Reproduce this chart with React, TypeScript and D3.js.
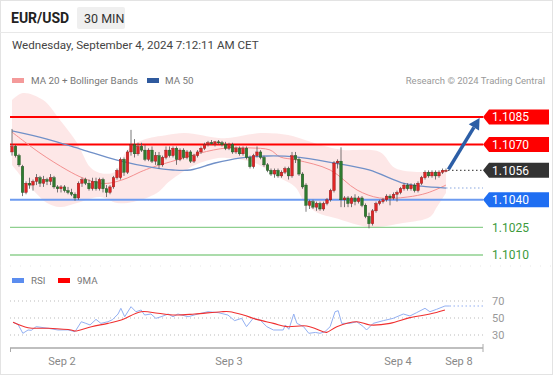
import React from 'react';
import * as d3 from 'd3';

const BASE = 1.1;
// candles in pips above 1.1000: [open, high, low, close]
const candles: number[][] = [
  [66, 78.5, 64, 69], [69, 70, 63, 64], [64, 65, 58, 59], [58, 59, 42, 44], [44, 50, 43, 49],
  [49, 52, 46, 48], [48, 51, 45, 50], [50, 54, 48, 52], [52, 53, 47, 49], [49, 53, 47, 51],
  [51, 52, 48, 50], [50, 54, 48, 52], [52, 53, 46, 47], [47, 48, 44, 46], [46, 48, 44, 47],
  [47, 48, 44, 45], [45, 47, 43, 44], [44, 46, 42, 43], [43, 44, 39.5, 41], [41, 50, 40, 49],
  [49, 52, 47, 51], [51, 52, 48, 49], [49, 51, 45, 46], [46, 52, 45, 50], [50, 52, 45, 46],
  [46, 52, 45, 51], [51, 52, 44, 46], [46, 48, 41.5, 44], [44, 48, 43, 47], [47, 53, 46, 52],
  [52, 57, 51, 56], [52, 63, 51, 62], [62, 63, 53, 55], [55, 67, 54, 66], [66, 78, 64, 70],
  [70, 73, 63, 65], [65, 71, 64, 69], [69, 71, 66, 67], [67, 70, 61, 62], [62, 68, 61, 67],
  [67, 69, 60, 61], [61, 66, 59, 64], [64, 66, 57, 59], [59, 64, 58, 63], [63, 69, 62, 67],
  [67, 69, 63, 64], [64, 69, 63, 68], [68, 69, 59, 62], [62, 68, 61, 67], [67, 68, 62, 63],
  [63, 67, 62, 66], [66, 67, 60, 61], [61, 65, 60, 64], [64, 67, 63, 66], [66, 69, 65, 68],
  [68, 71, 67, 70], [70, 72, 69, 71], [71, 72.5, 70, 70.5], [70.5, 72, 69, 71.5], [71.5, 72.5, 70, 71],
  [71, 72, 69, 70], [70, 71.5, 67, 68], [68, 71, 67, 70], [70, 71, 65, 66], [66, 69, 65, 68],
  [68, 69, 64, 65], [65, 69, 64, 68], [68, 69, 62, 63], [63, 64, 57, 58], [58, 65, 57, 64],
  [64, 69, 63, 66], [66, 67, 62, 63], [63, 64, 58, 59], [59, 60, 55, 56], [56, 57, 53, 54],
  [54, 57, 52, 56], [56, 57, 52, 53], [53, 56, 52, 55], [55, 58, 54, 57], [57, 58, 51, 53],
  [53, 66, 52, 64], [64, 66, 60, 62], [62, 63, 53, 54], [54, 55, 46, 47], [48, 49, 33.5, 37],
  [37, 40, 35, 39], [39, 40, 35, 36], [36, 39, 34, 38], [38, 39, 34, 35], [35, 39, 34, 38],
  [38, 41, 37, 40], [40, 46, 39, 45], [45, 61, 44, 60], [60, 62, 57, 61], [61, 68.5, 36, 40],
  [40, 42, 36, 41], [41, 42, 36, 38], [38, 42, 36, 41], [41, 43, 37, 39], [39, 42, 38, 41],
  [41, 42, 36, 37], [37, 38, 30, 31], [31, 33, 24.5, 27], [27, 35, 26, 34], [34, 39, 33, 38],
  [38, 40, 37, 39], [39, 41, 38, 40], [40, 43, 39, 42], [42, 43, 37, 41], [41, 44, 40, 43],
  [43, 45, 39, 44], [44, 47, 43, 46], [46, 49, 45, 48], [48, 49, 45, 46], [46, 49, 45, 48],
  [48, 49, 44, 45], [45, 50, 44, 49], [49, 53, 48, 52], [52, 56, 51, 55], [55, 56, 52, 53],
  [53, 56, 52, 55], [55, 56, 51, 53], [53, 56, 52, 55], [55, 57, 54, 56], [56, 57, 55, 56],
];

// indicator samples: [candle index, pips]
const ma50: number[][] = [
  [0, 77.4], [10, 73], [20, 67.3], [30, 61.6], [40, 57.6], [46, 56.2], [51, 56.2], [58, 60],
  [65, 62.7], [73, 63.8], [81, 63.3], [92, 60], [102, 56.2], [112, 48.9], [117, 47.4], [124, 46.4],
];
const ma20: number[][] = [
  [0, 76.8], [8, 65.4], [15.7, 56.2], [20.3, 51.8], [25, 49.1], [28, 49.1], [32.9, 51.8],
  [36.6, 55.1], [40.3, 57.8], [47, 61.6], [53.7, 65.4], [61.4, 68.2], [68, 68.2], [73.7, 67.1],
  [76.6, 63.3], [81.4, 61.6], [90.9, 56.2], [98.6, 45.3], [105, 41], [112.9, 41.5],
  [118.6, 43.7], [124, 48],
];
const bbUpper: number[][] = [
  [0, 94.2], [3.1, 98], [8.9, 94.2], [13.7, 83.4], [18.6, 70.9], [22.3, 57.8], [25.1, 54.6],
  [29.4, 55.1], [32.9, 67.1], [37.4, 72.5], [44.3, 75.2], [49.4, 76.3], [58.9, 73.6],
  [61.7, 73.6], [71.1, 76.3], [78.9, 75.2], [83.7, 72.5], [90.3, 68.7], [94.6, 67.1],
  [105.1, 66], [109.4, 57.3], [116.6, 55.1], [124, 56.2],
];
const bbLower: number[][] = [
  [0, 58.9], [6, 45.3], [10, 38.3], [13.7, 36.1], [18.6, 38.3], [25.1, 41.5], [30, 38.3],
  [34.6, 38.8], [41.4, 43.7], [45.1, 50.2], [52.3, 58.9], [58.9, 62.7], [61.7, 62.7],
  [69.4, 60], [76, 52.4], [80.9, 47], [83.7, 38.3], [87.4, 32.8], [92.3, 30.1], [102.3, 25.2],
  [111.7, 27.4], [119.4, 30.7], [121.4, 36.1], [124, 43.7],
];

// RSI samples: [candle index, value]
const rsi: number[][] = [
  [0.3, 45], [1.7, 42.6], [3.1, 32], [4.6, 35.9], [5.5, 35.5], [6.9, 39.8], [10.3, 37.9],
  [13.1, 35.9], [16, 36], [18, 33.9], [19.8, 45.6], [21.1, 43.7], [22.3, 41.8], [24, 48.4],
  [25.4, 43.7], [27.4, 45.6], [28.7, 48], [30.3, 54.7], [31.1, 61.4], [32.2, 51.5],
  [34, 63.3], [35.4, 57.4], [36.9, 59.4], [37.9, 53.5], [39.7, 54.7], [41.1, 49.6],
  [42.6, 51.5], [44.6, 54.7], [46, 51.5], [47.4, 54.7], [50.3, 51.5], [53.1, 54.7],
  [56, 57.4], [58.9, 56.3], [61.7, 53.5], [63.6, 46.9], [65.6, 49.6], [67, 39.8],
  [68.9, 49.6], [70.9, 47.6], [72.8, 39.8], [74.7, 35.9], [77.5, 35.9], [77.5, 36], [78.1, 41.8],
  [79.1, 36.7], [80.5, 54.7], [81.4, 43.7], [83.3, 39.8], [84.8, 32], [86.7, 33], [88, 32],
  [89.4, 33.9], [90.9, 39.8], [92.3, 57.4], [93.2, 58.6], [94.2, 43.7], [96.6, 43.7],
  [98.5, 45.6], [100.4, 39.8], [101.3, 35.9], [103.2, 43.7], [106.1, 46.9], [108.9, 49.6],
  [111.8, 54.7], [113.7, 52.4], [115.6, 56.3], [118, 61.4], [119.4, 57.4], [121.3, 60.2],
  [123.7, 64.1], [125, 64.1],
];
const rsiMa: number[][] = [
  [0.3, 45], [4.6, 38.6], [10.3, 37.9], [16.9, 35.9], [18, 34.7], [22.7, 39.8], [27.4, 43.7],
  [31.2, 47.6], [36.9, 57.4], [41.7, 55.5], [46.5, 53.5], [52.2, 54.7], [59.8, 57.4],
  [62.2, 57.4], [66.1, 53.5], [69.9, 48.4], [74.7, 43.7], [78.5, 39.8], [84.2, 40.6],
  [88.9, 33.9], [89.9, 33.1], [92.8, 39.8], [98.5, 45.6], [102.3, 41.8], [108, 43.7],
  [113.7, 50.4], [119.4, 54.7], [123.7, 59.4],
];

const levelsRed = [1.1085, 1.107];
const levelBlue = 1.104;
const levelsGreen = [1.1025, 1.101];
const lastPrice = 1.1056;
const ma50Last = 46.4;
const rsiLast = 64.1;
const rsiTicks = [70, 50, 30];
const xTickIdx = [14.3, 62, 110.3, 127.7];
const xTickLabels = ['Sep 2', 'Sep 3', 'Sep 4', 'Sep 8'];
const arrowFrom = [124.7, 56.5];
const arrowTo = [133.6, 84.5];

const FONT = 'Roboto, Arial, sans-serif';

export default function App() {
  const x = d3.scaleLinear().domain([0, 124]).range([12, 446]);
  const y = d3.scaleLinear().domain([1.101, 1.1085]).range([255, 117]);
  const yp = (p: number) => y(BASE + p / 10000);
  const ry = d3.scaleLinear().domain([30, 70]).range([335, 301]);
  const left = 10;
  const right = 483;

  const line = d3.line<number[]>().x((d) => x(d[0])).y((d) => yp(d[1])).curve(d3.curveCatmullRom);
  const rline = d3.line<number[]>().x((d) => x(d[0])).y((d) => ry(d[1])).curve(d3.curveLinear);
  const rmline = d3.line<number[]>().x((d) => x(d[0])).y((d) => ry(d[1])).curve(d3.curveCatmullRom);

  const bandPath =
    (line(bbUpper) as string) +
    'L' +
    (line([...bbLower].reverse()) as string).slice(1) +
    'Z';

  const tag = (yy: number, fill: string, label: string) => {
    const h = 15;
    const x0 = right;
    const x1 = 549;
    const pts = `${x0},${yy} ${x0 + 6},${yy - h / 2} ${x1},${yy - h / 2} ${x1},${yy + h / 2} ${x0 + 6},${yy + h / 2}`;
    return (
      <g key={label}>
        <polygon points={pts} fill={fill} />
        <text x={492} y={yy + 4.3} fill="#fff" fontSize={12} fontFamily={FONT}>
          {label}
        </text>
      </g>
    );
  };

  const ax0 = x(arrowFrom[0]);
  const ay0 = yp(arrowFrom[1]);
  const ax1 = x(arrowTo[0]);
  const ay1 = yp(arrowTo[1]);
  const ang = Math.atan2(ay1 - ay0, ax1 - ax0);
  const headL = 11;
  const headW = 6;
  const bx = ax1 - headL * Math.cos(ang);
  const by = ay1 - headL * Math.sin(ang);
  const head = `${ax1},${ay1} ${bx + headW * Math.sin(ang)},${by - headW * Math.cos(ang)} ${bx - headW * Math.sin(ang)},${by + headW * Math.cos(ang)}`;

  return (
    <svg
      width={553}
      height={375}
      style={{ position: 'absolute', left: 0, top: 0, background: '#fff' }}
      fontFamily={FONT}
    >
      <rect x={0.5} y={0.5} width={552} height={374} fill="#fff" stroke="#e3e3e3" />
      {/* header */}
      <text x={11} y={23} fontSize={14} fontWeight="bold" fill="#222">EUR/USD</text>
      <rect x={77} y={7} width={48} height={22} rx={2} fill="#efefef" />
      <text x={84} y={23} fontSize={12.5} fill="#333">30 MIN</text>
      <line x1={0} x2={553} y1={32.5} y2={32.5} stroke="#e8e8e8" />
      <text x={12} y={49} fontSize={11.6} fill="#444">Wednesday, September 4, 2024 7:12:11 AM CET</text>

      {/* legend */}
      <rect x={12} y={78} width={12} height={5} fill="#f49a9a" />
      <text x={31} y={84} fontSize={9.8} fill="#777">MA 20 + Bollinger Bands</text>
      <rect x={147} y={78} width={12} height={5} fill="#2f5a9e" />
      <text x={165} y={84} fontSize={9.8} fill="#777">MA 50</text>
      <text x={545} y={84} fontSize={9.5} fill="#999" textAnchor="end">Research © 2024 Trading Central</text>

      {/* bollinger band */}
      <path d={bandPath} fill="#fde4e4" opacity={0.9} />

      {/* levels */}
      {levelsGreen.map((v) => (
        <line key={v} x1={left} x2={right} y1={y(v)} y2={y(v)} stroke="#8fd08f" strokeWidth={1.3} />
      ))}
      <line x1={left} x2={right} y1={y(levelBlue)} y2={y(levelBlue)} stroke="#6d9bf0" strokeWidth={2} />
      {levelsRed.map((v) => (
        <line key={v} x1={left} x2={right} y1={y(v)} y2={y(v)} stroke="#f00" strokeWidth={2} />
      ))}

      {/* MAs */}
      <path d={line(ma20) as string} fill="none" stroke="#f49090" strokeWidth={1} />
      <path d={line(ma50) as string} fill="none" stroke="#7090c8" strokeWidth={1.3} />
      <line x1={x(124)} x2={right} y1={yp(ma50Last)} y2={yp(ma50Last)} stroke="#8aa8e0" strokeWidth={1.2} strokeDasharray="1.5,2.5" />

      {/* candles */}
      {candles.map((c, i) => {
        const [o, h, l, cl] = c;
        const up = cl >= o;
        const cx = x(i);
        const top = yp(Math.max(o, cl));
        const bot = yp(Math.min(o, cl));
        return (
          <g key={i}>
            <line x1={cx} x2={cx} y1={yp(h)} y2={yp(l)} stroke="#555" strokeWidth={0.8} />
            <rect
              x={cx - 1.3}
              y={top}
              width={2.6}
              height={Math.max(1, bot - top)}
              fill={up ? '#e02424' : '#2f7a2f'}
              stroke={up ? '#8a1a1a' : '#1f4f1f'}
              strokeWidth={0.4}
            />
          </g>
        );
      })}

      {/* current price dotted */}
      <line x1={x(124) + 2} x2={right} y1={y(lastPrice)} y2={y(lastPrice)} stroke="#555" strokeWidth={1.2} strokeDasharray="1.5,2.5" />

      {/* arrow */}
      <line x1={ax0} y1={ay0} x2={bx} y2={by} stroke="#2c5ea6" strokeWidth={3.5} />
      <polygon points={head} fill="#2c5ea6" />

      {/* tags */}
      {tag(y(levelsRed[0]), '#f00', '1.1085')}
      {tag(y(levelsRed[1]), '#f00', '1.1070')}
      {tag(y(lastPrice), '#333', '1.1056')}
      {tag(y(levelBlue), '#1f6ef2', '1.1040')}
      {levelsGreen.map((v) => (
        <text key={v} x={492} y={y(v) + 4.3} fontSize={12} fill="#3c9a3c">{v.toFixed(4)}</text>
      ))}

      {/* separator */}
      <line x1={0} x2={553} y1={266} y2={266} stroke="#e6e6e6" strokeDasharray="1,9" />

      {/* RSI legend */}
      <rect x={12} y={278} width={12} height={5} fill="#5b8def" />
      <text x={31} y={284} fontSize={9.8} fill="#777">RSI</text>
      <rect x={58} y={278} width={12} height={5} fill="#f00" />
      <text x={77} y={284} fontSize={9.8} fill="#777">9MA</text>

      {/* RSI grid */}
      {rsiTicks.map((t) => (
        <g key={t}>
          <line x1={left} x2={right} y1={ry(t)} y2={ry(t)} stroke="#bbb" strokeDasharray="1,3" />
          <text x={492} y={ry(t) + 4} fontSize={11} fill="#999">{t}</text>
        </g>
      ))}
      <path d={rline(rsi) as string} fill="none" stroke="#93b0f2" strokeWidth={1} />
      <line x1={x(125)} x2={right} y1={ry(rsiLast)} y2={ry(rsiLast)} stroke="#93b0f2" strokeWidth={1.2} strokeDasharray="1.5,2.5" />
      <path d={rmline(rsiMa) as string} fill="none" stroke="#f03030" strokeWidth={1.1} />

      {/* x axis */}
      <line x1={left} x2={right} y1={348} y2={348} stroke="#aaa" strokeWidth={1.5} />
      <line x1={left + 0.5} x2={left + 0.5} y1={348} y2={352} stroke="#aaa" />
      <line x1={right} x2={right} y1={344} y2={352} stroke="#aaa" />
      {xTickIdx.map((t, i) => (
        <text key={i} x={x(t)} y={365} fontSize={11} fill="#888" textAnchor="middle">{xTickLabels[i]}</text>
      ))}
    </svg>
  );
}
